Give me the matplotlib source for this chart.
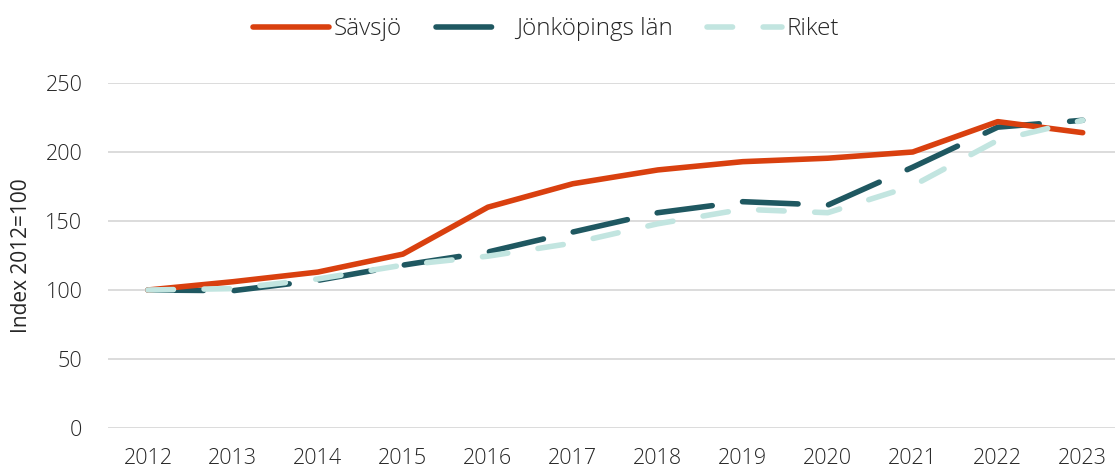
import matplotlib.pyplot as plt
import numpy as np

# Data
years = ["2012", "2013", "2014", "2015", "2016", "2017", "2018", "2019", "2020", "2021", "2022", "2023"]
savsjo = [100, 106, 113, 126, 160, 177, 187, 193, 195.5, 200, 222, 214]
jonkoping = [100, 99.5, 107, 118, 127.5, 142, 156, 164, 161.5, 189, 218, 223]
riket = [100, 101, 108, 118, 124.5, 134, 148, 158.5, 156, 175.5, 208.5, 223]

plt.rcParams['font.family'] = ['Open Sans', 'DejaVu Sans']
plt.rcParams['font.weight'] = 300

fig = plt.figure(figsize=(11.15, 4.68), dpi=100)
ax = fig.add_axes([108 / 1115, 40 / 468, 1 - 108 / 1115, 345 / 468])

x = np.arange(len(years))
lw = 4.0
ax.plot(x, savsjo, color='#D9400F', lw=lw, solid_capstyle='round', solid_joinstyle='round',
        label='Sävsjö', zorder=3)
ax.plot(x, jonkoping, color='#1F5861', lw=lw, dashes=(10, 5.5), dash_capstyle='round',
        label='Jönköpings län', zorder=2)
ax.plot(x, riket, color='#C2E5E0', lw=lw, dashes=(4.6, 5.5), dash_capstyle='round',
        label='Riket', zorder=4)

ax.set_ylim(0, 250)
ax.set_xlim(-0.47, 11.38)
ax.set_yticks(range(0, 251, 50))
ax.set_xticks(x)
ax.set_xticklabels(years)
ax.grid(axis='y', color='#D9D9D9', lw=1.3)
ax.set_axisbelow(True)
for s in ax.spines.values():
    s.set_visible(False)
ax.tick_params(length=0, labelsize=15.5, colors='#262626')
ax.tick_params(axis='x', pad=14.5)
ax.tick_params(axis='y', pad=18.5)
ax.set_ylabel("Index 2012=100", fontsize=15, color='#262626')
ax.yaxis.set_label_coords(-0.075, 0.5)

leg = fig.legend(loc='upper center', bbox_to_anchor=(0.49, 1.01), ncol=3, frameon=False,
                 fontsize=17.5, handlelength=3.1, columnspacing=1.4, handletextpad=0.2)
for t in leg.get_texts():
    t.set_color('#262626')

fig.savefig('out.png', dpi=100)
